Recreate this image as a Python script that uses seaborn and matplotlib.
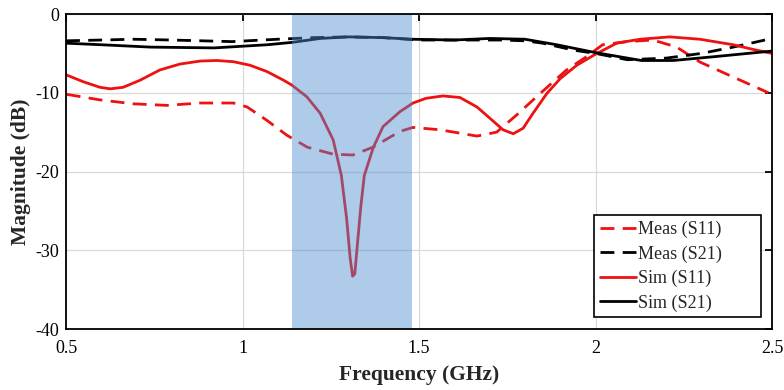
import numpy as np
import pandas as pd
import matplotlib
matplotlib.use("Agg")
import matplotlib.pyplot as plt
import seaborn as sns

# ---- data ----
sim_s11_f = [0.502, 0.549, 0.596, 0.625, 0.662, 0.71, 0.766, 0.823, 0.88, 0.927, 0.974, 1.021,
             1.069, 1.116, 1.139, 1.182, 1.22, 1.257, 1.28, 1.295, 1.305, 1.312, 1.318, 1.326,
             1.335, 1.345, 1.37, 1.398, 1.446, 1.483, 1.52, 1.568, 1.616, 1.664, 1.70, 1.738,
             1.767, 1.795, 1.823, 1.862, 1.90, 1.947, 2.00, 2.06, 2.126, 2.21, 2.296, 2.39,
             2.447, 2.50]
sim_s11_db = [-7.75, -8.6, -9.3, -9.5, -9.3, -8.4, -7.1, -6.35, -5.97, -5.9, -6.05, -6.5,
              -7.3, -8.4, -9.0, -10.5, -12.6, -16.0, -20.5, -26.0, -31.0, -33.3, -33.0, -29.0,
              -24.5, -20.5, -17.0, -14.3, -12.4, -11.3, -10.7, -10.4, -10.6, -11.8, -13.2, -14.7,
              -15.2, -14.5, -12.6, -10.1, -8.2, -6.5, -5.1, -3.7, -3.2, -2.9, -3.2, -3.9,
              -4.5, -5.0]

meas_s11_f = [0.502, 0.596, 0.69, 0.786, 0.88, 0.974, 1.013, 1.069, 1.126, 1.183, 1.257, 1.313,
              1.37, 1.446, 1.483, 1.56, 1.664, 1.72, 1.777, 1.843, 1.918, 1.975, 2.02, 2.089,
              2.163, 2.23, 2.296, 2.39, 2.49]
meas_s11_db = [-10.2, -10.9, -11.4, -11.6, -11.3, -11.3, -11.8, -13.5, -15.4, -16.9, -17.8, -17.9,
               -16.9, -14.9, -14.4, -14.7, -15.5, -15.0, -12.8, -10.1, -7.1, -5.4, -3.9, -3.5,
               -3.3, -4.2, -6.1, -8.0, -10.0]

meas_s21_f = [0.50, 0.60, 0.69, 0.80, 0.97, 1.10, 1.20, 1.30, 1.40, 1.50, 1.60, 1.73, 1.80, 1.85,
              1.94, 2.00, 2.09, 2.20, 2.30, 2.39, 2.50]
meas_s21_db = [-3.4, -3.3, -3.2, -3.3, -3.5, -3.2, -3.0, -2.9, -3.0, -3.3, -3.3, -3.3, -3.4, -3.7,
               -4.6, -5.0, -5.8, -5.6, -5.0, -4.2, -3.1]

sim_s21_f = [0.50, 0.60, 0.74, 0.92, 1.07, 1.14, 1.22, 1.30, 1.40, 1.48, 1.60, 1.70, 1.80, 1.89,
             2.00, 2.13, 2.22, 2.34, 2.50]
sim_s21_db = [-3.7, -3.9, -4.2, -4.3, -3.9, -3.6, -3.1, -2.9, -3.0, -3.2, -3.3, -3.1, -3.2, -3.9,
              -4.9, -5.9, -5.9, -5.4, -4.7]

band = (1.14, 1.48)
labels = ["Meas (S11)", "Meas (S21)", "Sim (S11)", "Sim (S21)"]
xticks = [0.5, 1, 1.5, 2, 2.5]
xtick_labels = ["0.5", "1", "1.5", "2", "2.5"]
yticks = [0, -10, -20, -30, -40]
ytick_labels = ["0", "-10", "-20", "-30", "-40"]

# ---- style ----
sns.set_style("white")
plt.rcParams["font.family"] = ["Liberation Serif", "DejaVu Serif"]
plt.rcParams["axes.unicode_minus"] = False

fig = plt.figure(figsize=(7.84, 3.90), dpi=100)
ax = fig.add_axes([0.0842, 0.1564, 0.9005, 0.8076])

series = [
    (meas_s11_f, meas_s11_db, labels[0], "#ee1111", (0, (5, 3))),
    (meas_s21_f, meas_s21_db, labels[1], "black", (0, (5, 3))),
    (sim_s11_f, sim_s11_db, labels[2], "#ee1111", "-"),
    (sim_s21_f, sim_s21_db, labels[3], "black", "-"),
]
for f, db, lab, col, ls in series:
    df = pd.DataFrame({"Frequency": f, "Magnitude": db})
    sns.lineplot(data=df, x="Frequency", y="Magnitude", ax=ax, color=col,
                 linestyle=ls, linewidth=2.0, label=lab, sort=True, zorder=3)

ax.axvspan(band[0], band[1], color=(77/255, 140/255, 210/255), alpha=0.45, lw=0, zorder=4)

ax.set_xlim(0.5, 2.5)
ax.set_ylim(-40, 0)
ax.set_xticks(xticks)
ax.set_xticklabels(xtick_labels)
ax.set_yticks(yticks)
ax.set_yticklabels(ytick_labels)
ax.grid(True, color="#d9d9d9", linewidth=0.9, zorder=0)
ax.set_axisbelow(True)
for s in ax.spines.values():
    s.set_color("black")
    s.set_linewidth(1.3)
    s.set_zorder(6)
ax.tick_params(direction="in", length=5, width=1.3, top=True, right=True,
               labelsize=13, colors="black")
ax.tick_params(axis="y", pad=5)
ax.tick_params(axis="x", pad=8)
ax.set_xlabel("Frequency (GHz)", fontsize=15.5, fontweight="bold", labelpad=6)
ax.set_ylabel("Magnitude (dB)", fontsize=15.5, fontweight="bold", labelpad=3)

leg = ax.legend(loc="lower left", bbox_to_anchor=(0.748, 0.038, 0.236, 0.324),
                mode="expand", borderaxespad=0,
                fontsize=13, frameon=True, fancybox=False, edgecolor="black",
                framealpha=1, handlelength=2.0, handletextpad=0.15, labelspacing=0.4,
                borderpad=0.3)
leg.get_frame().set_linewidth(1.2)
leg.set_zorder(7)

fig.savefig("out.png", dpi=100)
